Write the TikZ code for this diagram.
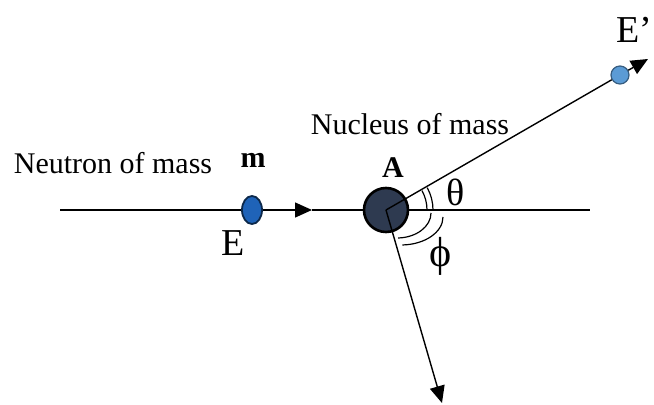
\documentclass[tikz,border=0pt]{standalone}
\usepackage{fontspec}
\setmainfont{Liberation Serif}
\usetikzlibrary{arrows.meta,shapes.geometric}
\definecolor{nuccol}{HTML}{2E3A50}
\definecolor{neucol}{HTML}{1F63B8}
\definecolor{outcol}{HTML}{5B9BD5}
\begin{document}
\begin{tikzpicture}[x=0.5pt,y=0.5pt,>={Triangle[length=8.5pt,width=7.5pt]}]
\useasboundingbox (0,0) rectangle (654,-405);
\coordinate (s) at (60,-210);
\coordinate (t) at (312,-210);
\coordinate (r) at (590,-210);
\coordinate (u) at (648,-59);
\coordinate (d) at (442,-403);
\node[circle, draw=black, line width=1.3pt, fill=nuccol, minimum size=22pt, inner sep=0pt] (nuc) at (386,-210) {};
\draw[line width=1.1pt] (s) -- (252,-210);
\node[ellipse, draw=neucol!40!black, line width=0.9pt, fill=neucol, minimum width=10pt, minimum height=14pt, inner sep=0pt] (neu) at (252,-210) {};
\node[circle, draw=outcol!60!black, line width=0.6pt, fill=outcol, minimum size=9pt, inner sep=0pt] (out) at (620,-75) {};
\draw[->, line width=0.7pt] (neu) -- (t);
\draw[line width=0.7pt] (t) -- (nuc);
\draw[line width=0.7pt] (nuc) -- (r);
\draw[line width=0.7pt] (nuc.center) -- (out);
\draw[->, line width=0.7pt] (out) -- (u);
\draw[->, line width=0.7pt] (nuc.center) -- (d);
% angles
\draw[line width=0.6pt] (427,-210) arc[start angle=0, end angle=29, radius=40];
\draw[line width=0.6pt] (433,-210) arc[start angle=0, end angle=29, radius=46];
\draw[line width=0.6pt] (431,-213) arc[start angle=0, end angle=-88, x radius=34, y radius=25];
\draw[line width=0.6pt] (443,-217) arc[start angle=0, end angle=-88, x radius=42, y radius=28];
% labels
\node[font=\fontsize{15}{18}\selectfont] (lneu) at (113,-163) {Neutron of mass};
\node[font=\fontsize{15}{18}\selectfont\bfseries] (lm) at (253,-160) {m};
\node[font=\fontsize{19}{22}\selectfont] (le) at (233,-243) {E};
\node[font=\fontsize{15}{18}\selectfont] (lnuc) at (410,-124) {Nucleus of mass};
\node[font=\fontsize{15}{18}\selectfont\bfseries] (la) at (393,-168) {A};
\node[font=\fontsize{19}{22}\selectfont] (lth) at (456,-192) {θ};
\node[font=\fontsize{21}{24}\selectfont] (lph) at (441,-256) {ϕ};
\node[font=\fontsize{19}{22}\selectfont] (lep) at (634,-30) {E'};
\end{tikzpicture}
\end{document}
